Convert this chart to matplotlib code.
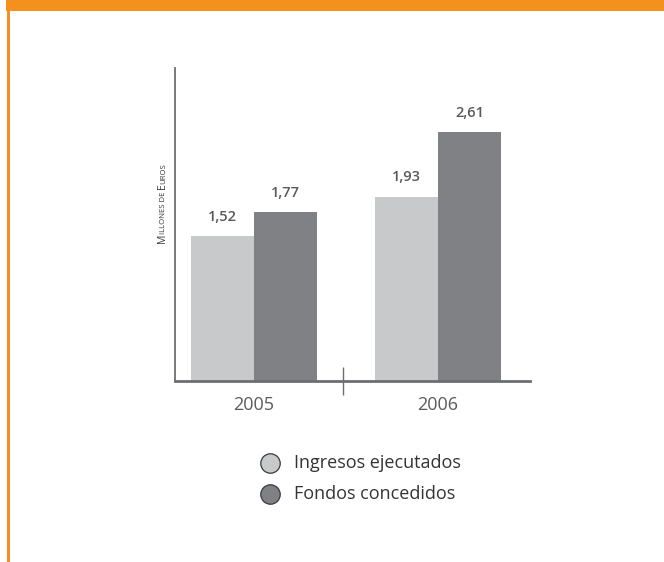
import matplotlib.pyplot as plt
from matplotlib.lines import Line2D
from matplotlib.patches import Rectangle

plt.rcParams['font.family'] = ['Open Sans', 'DejaVu Sans']

# datos
years = ['2005', '2006']
ingresos = [1.52, 1.93]
fondos = [1.77, 2.61]
series_names = ['Ingresos ejecutados', 'Fondos concedidos']
ylabel_parts = [('M', 7.5), ('ILLONES DE ', 5.6), ('E', 7.5), ('UROS', 5.6)]

LIGHT = '#c8c9cb'
DARK = '#808184'
ORANGE = '#f4901e'
AXIS = '#6d6e71'
TXT = '#58595b'

W, H = 664, 562
fig = plt.figure(figsize=(W / 100, H / 100), dpi=100)
fig.patch.set_facecolor('white')

# marco naranja (franja superior + linea izquierda)
fig.add_artist(Rectangle((6 / W, 1 - 11 / H), 1, 11 / H, transform=fig.transFigure,
                         color=ORANGE, lw=0))
fig.add_artist(Rectangle((7 / W, 0), 3 / W, 1, transform=fig.transFigure,
                         color=ORANGE, lw=0))

ax = fig.add_axes([175 / W, (H - 381) / H, 355 / W, 313 / H])

x = range(len(years))
w = 0.342
ax.bar([i - w / 2 for i in x], ingresos, width=w, color=LIGHT, lw=0)
ax.bar([i + w / 2 for i in x], fondos, width=w, color=DARK, lw=0)

for i in x:
    ax.text(i - w / 2, ingresos[i] + 0.13, f'{ingresos[i]:.2f}'.replace('.', ','),
            ha='center', va='bottom', fontsize=10.5, fontweight='semibold', color=TXT)
    ax.text(i + w / 2, fondos[i] + 0.13, f'{fondos[i]:.2f}'.replace('.', ','),
            ha='center', va='bottom', fontsize=10.5, fontweight='semibold', color=TXT)

ax.set_xlim(-0.429, 1.5)
ax.set_ylim(0, 3.28)

for s in ['top', 'right']:
    ax.spines[s].set_visible(False)
ax.spines['left'].set_color(AXIS)
ax.spines['left'].set_linewidth(1.3)
ax.spines['bottom'].set_color(AXIS)
ax.spines['bottom'].set_linewidth(2)

ax.set_yticks([])
ax.set_xticks(list(x))
ax.set_xticklabels(years, fontsize=13, color='#5a5b5d')
ax.tick_params(axis='x', which='major', length=0, pad=11)
ax.set_xticks([0.484], minor=True)
ax.tick_params(axis='x', which='minor', length=20, direction='inout', color=AXIS, width=1)

# etiqueta del eje Y en versalitas
renderer = fig.canvas.get_renderer()
ypix = H - 243
for txt, fs in ylabel_parts:
    t = fig.text(165 / W, ypix / H, txt, rotation=90, rotation_mode='anchor',
                 ha='left', va='baseline', fontsize=fs, color='#3a3a3a')
    ypix += t.get_window_extent(renderer).height

# leyenda
colors = [LIGHT, DARK]
for k, name in enumerate(series_names):
    yy = 1 - (463 + 31 * k) / H
    fig.add_artist(Line2D([270 / W], [yy], transform=fig.transFigure, ls='none', marker='o',
                          markersize=14, markerfacecolor=colors[k],
                          markeredgecolor='#3a3a3a', markeredgewidth=0.9))
    fig.text(294 / W, yy, name, ha='left', va='center', fontsize=13, color='#333333')

fig.savefig('out.png', dpi=100, facecolor='white')
